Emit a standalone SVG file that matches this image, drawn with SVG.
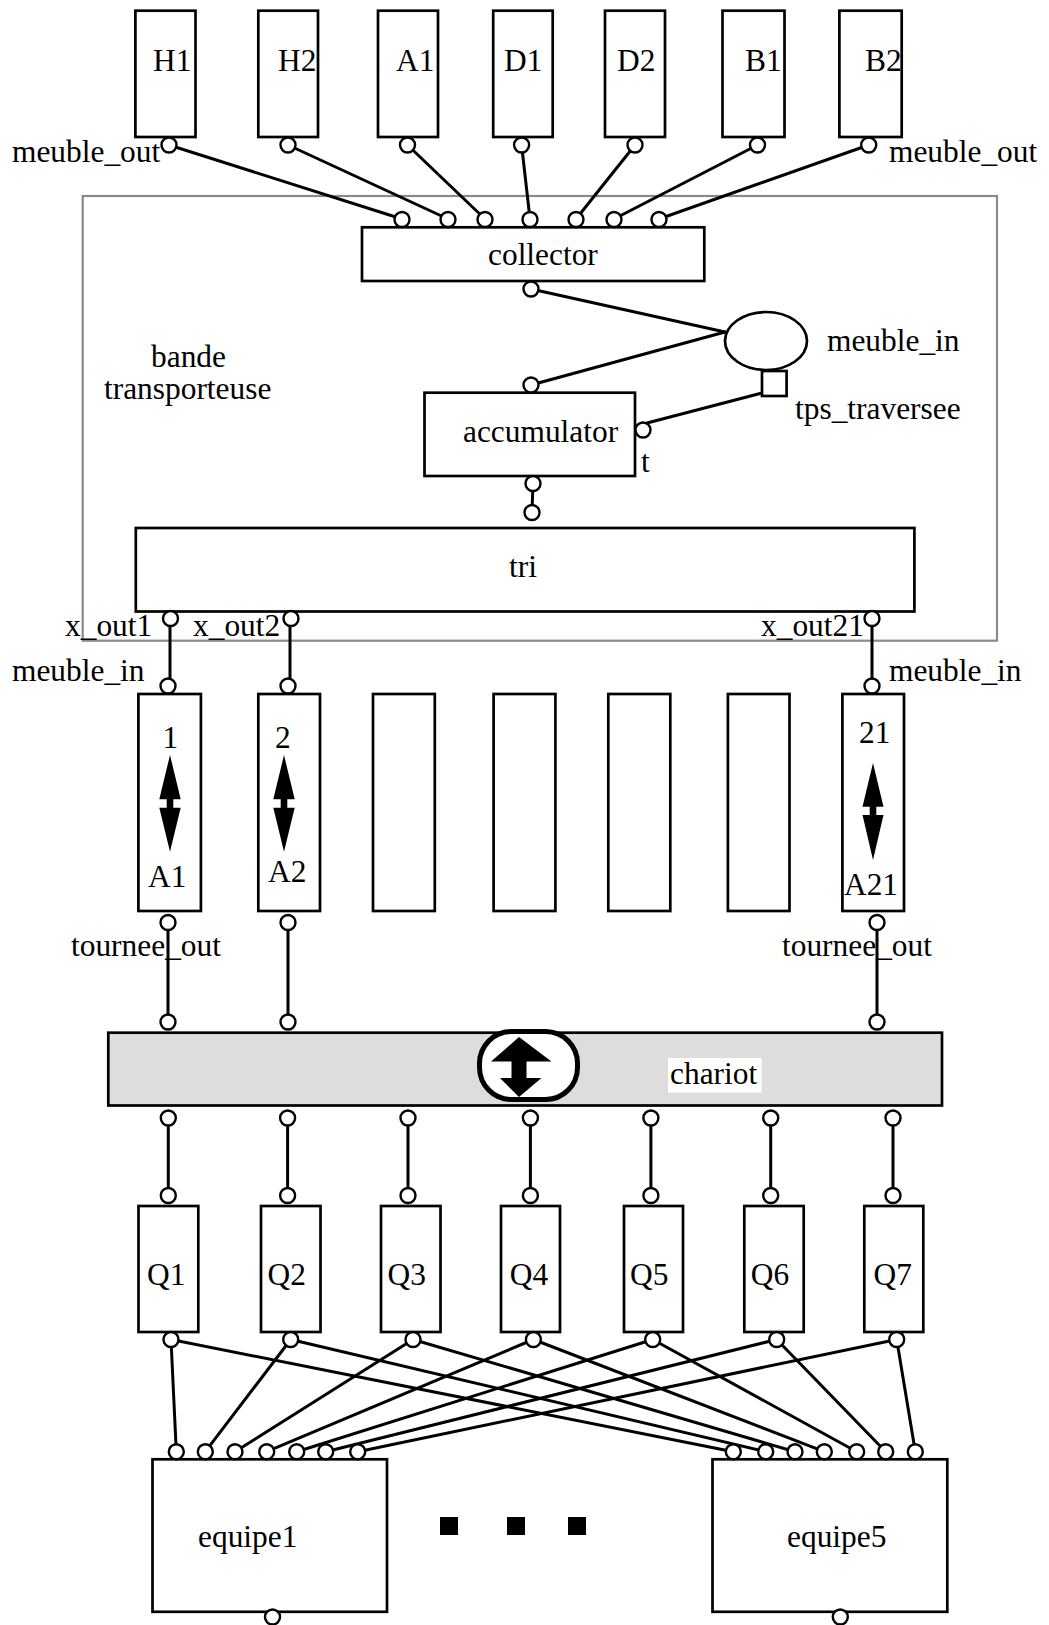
<svg xmlns="http://www.w3.org/2000/svg" width="1049" height="1625" viewBox="0 0 1049 1625">
<style>
  text { font-family: "Liberation Serif", "Times New Roman", serif; font-size: 31.4px; fill: #000; }
  .box { fill: #fff; stroke: #000; stroke-width: 2.7; }
  .port { fill: #fff; stroke: #000; stroke-width: 2.4; }
  .wire { stroke: #000; stroke-width: 3; fill: none; stroke-linecap: round; }
  .group { fill: none; stroke: #8a8a8a; stroke-width: 2.2; }
  .arrow { fill: #000; stroke: none; }
</style>
<rect width="1049" height="1625" fill="#fff"/>

<g id="bande_transporteuse">
  <rect class="group" x="82.7" y="196" width="914.3" height="444.7"/>
  <text x="151" y="367">bande</text>
  <text x="104" y="399">transporteuse</text>
</g>

<g id="connectors">
  <line class="wire" x1="169" y1="145" x2="402" y2="219"/>
  <line class="wire" x1="288" y1="145" x2="448" y2="219"/>
  <line class="wire" x1="407.5" y1="145" x2="485" y2="219"/>
  <line class="wire" x1="521.6" y1="145" x2="530" y2="219"/>
  <line class="wire" x1="635" y1="145" x2="576" y2="219"/>
  <line class="wire" x1="757.5" y1="145" x2="614" y2="219"/>
  <line class="wire" x1="868.7" y1="145" x2="659" y2="219"/>
  <line class="wire" x1="531" y1="289" x2="725" y2="332"/>
  <line class="wire" x1="725" y1="332" x2="531" y2="385"/>
  <line class="wire" x1="762" y1="393" x2="647" y2="423"/>
  <line class="wire" x1="533" y1="483.5" x2="532" y2="512.5"/>
  <line class="wire" x1="170" y1="618.5" x2="170" y2="686"/>
  <line class="wire" x1="290" y1="618.5" x2="290" y2="686"/>
  <line class="wire" x1="872" y1="618.5" x2="872" y2="686"/>
  <line class="wire" x1="168" y1="922.5" x2="168" y2="1022"/>
  <line class="wire" x1="288" y1="922.5" x2="288" y2="1022"/>
  <line class="wire" x1="877" y1="922.5" x2="877" y2="1022"/>
  <line class="wire" x1="168.3" y1="1118" x2="168.3" y2="1195.5"/>
  <line class="wire" x1="287.6" y1="1118" x2="287.6" y2="1195.5"/>
  <line class="wire" x1="408" y1="1118" x2="408" y2="1195.5"/>
  <line class="wire" x1="530.4" y1="1118" x2="530.4" y2="1195.5"/>
  <line class="wire" x1="650.9" y1="1118" x2="650.9" y2="1195.5"/>
  <line class="wire" x1="770.7" y1="1118" x2="770.7" y2="1195.5"/>
  <line class="wire" x1="893" y1="1118" x2="893" y2="1195.5"/>
  <line class="wire" x1="171" y1="1339.5" x2="176.3" y2="1451.7"/>
  <line class="wire" x1="171" y1="1339.5" x2="733.3" y2="1451.7"/>
  <line class="wire" x1="290.7" y1="1339.5" x2="205.3" y2="1451.7"/>
  <line class="wire" x1="290.7" y1="1339.5" x2="765.7" y2="1451.7"/>
  <line class="wire" x1="413" y1="1339.5" x2="235" y2="1451.7"/>
  <line class="wire" x1="413" y1="1339.5" x2="795" y2="1451.7"/>
  <line class="wire" x1="533.4" y1="1339.5" x2="266.7" y2="1451.7"/>
  <line class="wire" x1="533.4" y1="1339.5" x2="824.3" y2="1451.7"/>
  <line class="wire" x1="652.7" y1="1339.5" x2="296.7" y2="1451.7"/>
  <line class="wire" x1="652.7" y1="1339.5" x2="856.7" y2="1451.7"/>
  <line class="wire" x1="776.7" y1="1339.5" x2="325.7" y2="1451.7"/>
  <line class="wire" x1="776.7" y1="1339.5" x2="885.7" y2="1451.7"/>
  <line class="wire" x1="896.7" y1="1339.5" x2="357.7" y2="1451.7"/>
  <line class="wire" x1="896.7" y1="1339.5" x2="915.3" y2="1451.7"/>
</g>

<g id="H1">
  <rect class="box" x="135.4" y="10.7" width="60.1" height="126.3"/>
  <text x="153" y="71">H1</text>
  <circle class="port" cx="169" cy="145" r="7.5"/>
  <text x="12" y="162">meuble_out</text>
</g>
<g id="H2">
  <rect class="box" x="258.3" y="10.7" width="59.7" height="126.3"/>
  <text x="278" y="71">H2</text>
  <circle class="port" cx="288" cy="145" r="7.5"/>
</g>
<g id="A1">
  <rect class="box" x="378" y="10.7" width="60" height="126.3"/>
  <text x="396" y="71">A1</text>
  <circle class="port" cx="407.5" cy="145" r="7.5"/>
</g>
<g id="D1">
  <rect class="box" x="493.2" y="10.7" width="59.5" height="126.3"/>
  <text x="504" y="71">D1</text>
  <circle class="port" cx="521.6" cy="145" r="7.5"/>
</g>
<g id="D2">
  <rect class="box" x="605" y="10.7" width="60" height="126.3"/>
  <text x="617" y="71">D2</text>
  <circle class="port" cx="635" cy="145" r="7.5"/>
</g>
<g id="B1">
  <rect class="box" x="722.5" y="10.7" width="62" height="126.3"/>
  <text x="745" y="71">B1</text>
  <circle class="port" cx="757.5" cy="145" r="7.5"/>
</g>
<g id="B2">
  <rect class="box" x="839.4" y="10.7" width="62.3" height="126.3"/>
  <text x="865" y="71">B2</text>
  <circle class="port" cx="868.7" cy="145" r="7.5"/>
  <text x="889" y="162">meuble_out</text>
</g>

<g id="collector">
  <rect class="box" x="362" y="227.3" width="342.3" height="53.7"/>
  <text x="488" y="265">collector</text>
  <circle class="port" cx="402" cy="219.5" r="7.5"/>
  <circle class="port" cx="448" cy="219.5" r="7.5"/>
  <circle class="port" cx="485" cy="219.5" r="7.5"/>
  <circle class="port" cx="530" cy="219.5" r="7.5"/>
  <circle class="port" cx="576" cy="219.5" r="7.5"/>
  <circle class="port" cx="614" cy="219.5" r="7.5"/>
  <circle class="port" cx="659" cy="219.5" r="7.5"/>
  <circle class="port" cx="531" cy="289" r="7.5"/>
</g>

<g id="meuble_in">
  <ellipse class="box" cx="766" cy="341" rx="41" ry="29"/>
  <rect class="box" x="762" y="371" width="24.6" height="25"/>
  <text x="827" y="351">meuble_in</text>
  <text x="795" y="419">tps_traversee</text>
</g>

<g id="accumulator">
  <rect class="box" x="424.5" y="392.7" width="210.5" height="83.3"/>
  <text x="463" y="441.7">accumulator</text>
  <circle class="port" cx="531" cy="385" r="7.5"/>
  <circle class="port" cx="643" cy="430" r="7.5"/>
  <text x="641" y="471.7">t</text>
  <circle class="port" cx="533" cy="483.5" r="7.5"/>
</g>

<g id="tri">
  <rect class="box" x="135.8" y="528" width="778.6" height="83.5"/>
  <text x="509" y="576.7">tri</text>
  <circle class="port" cx="532" cy="512.5" r="7.5"/>
  <circle class="port" cx="170.5" cy="618.5" r="7.5"/>
  <circle class="port" cx="291" cy="618.5" r="7.5"/>
  <circle class="port" cx="872" cy="618.5" r="7.5"/>
  <text x="65" y="636">x_out1</text>
  <text x="193" y="636">x_out2</text>
  <text x="761" y="636">x_out21</text>
</g>

<g id="A1_lane">
  <rect class="box" x="138.4" y="694" width="62.5" height="217"/>
  <text x="162.6" y="748.3">1</text>
  <polygon class="arrow" points="170,755 180.7,799.3 173.3,799.3 173.3,807.7 180.7,807.7 170,851.7 159.3,807.7 166.7,807.7 166.7,799.3 159.3,799.3"/>
  <text x="148" y="887.3">A1</text>
  <circle class="port" cx="168" cy="686" r="7.5"/>
  <circle class="port" cx="168" cy="922.5" r="7.5"/>
  <text x="12" y="681">meuble_in</text>
  <text x="71" y="956">tournee_out</text>
</g>
<g id="A2_lane">
  <rect class="box" x="258.3" y="694" width="61.7" height="217"/>
  <text x="275" y="748.3">2</text>
  <polygon class="arrow" points="284,755 294.7,799.3 287.3,799.3 287.3,807.7 294.7,807.7 284,851.7 273.3,807.7 280.7,807.7 280.7,799.3 273.3,799.3"/>
  <text x="268" y="881.7">A2</text>
  <circle class="port" cx="288" cy="686" r="7.5"/>
  <circle class="port" cx="288" cy="922.5" r="7.5"/>
</g>
<g id="lane3"><rect class="box" x="373" y="694" width="61.8" height="217"/></g>
<g id="lane4"><rect class="box" x="493.6" y="694" width="61.8" height="217"/></g>
<g id="lane5"><rect class="box" x="608.3" y="694" width="62" height="217"/></g>
<g id="lane6"><rect class="box" x="727.9" y="694" width="61.6" height="217"/></g>
<g id="A21_lane">
  <rect class="box" x="842.4" y="694" width="61.6" height="217"/>
  <text x="859" y="743.3">21</text>
  <polygon class="arrow" points="873,763 883.5,806.7 876.3,806.7 876.3,815 883.5,815 873,860 862.5,815 869.7,815 869.7,806.7 862.5,806.7"/>
  <text x="844" y="895">A21</text>
  <circle class="port" cx="872" cy="686" r="7.5"/>
  <circle class="port" cx="877" cy="922.5" r="7.5"/>
  <text x="889" y="681">meuble_in</text>
  <text x="782" y="956">tournee_out</text>
</g>

<g id="chariot">
  <rect x="108.3" y="1032.7" width="833.7" height="72.8" fill="#dddddd" stroke="#000" stroke-width="2.7"/>
  <rect x="479.5" y="1031.5" width="98" height="68" rx="32" ry="32" fill="#fff" stroke="#000" stroke-width="5"/>
  <polygon class="arrow" points="519,1037 551.5,1061.5 526.5,1061.5 526.5,1078 541.5,1078 519,1097 500,1078 511.5,1078 511.5,1061.5 491,1061.5"/>
  <rect x="668" y="1058" width="93.6" height="34.7" fill="#fff"/>
  <text x="670" y="1084">chariot</text>
  <circle class="port" cx="168" cy="1022" r="7.5"/>
  <circle class="port" cx="288" cy="1022" r="7.5"/>
  <circle class="port" cx="877" cy="1022" r="7.5"/>
  <circle class="port" cx="168.3" cy="1118" r="7.5"/>
  <circle class="port" cx="287.6" cy="1118" r="7.5"/>
  <circle class="port" cx="408" cy="1118" r="7.5"/>
  <circle class="port" cx="530.4" cy="1118" r="7.5"/>
  <circle class="port" cx="650.9" cy="1118" r="7.5"/>
  <circle class="port" cx="770.7" cy="1118" r="7.5"/>
  <circle class="port" cx="893" cy="1118" r="7.5"/>
</g>

<g id="Q1">
  <rect class="box" x="138.5" y="1206" width="59.8" height="126"/>
  <text x="147" y="1285">Q1</text>
  <circle class="port" cx="168.3" cy="1195.5" r="7.5"/>
  <circle class="port" cx="171" cy="1339.5" r="7.5"/>
</g>
<g id="Q2">
  <rect class="box" x="261" y="1206" width="59.5" height="126"/>
  <text x="267.6" y="1285">Q2</text>
  <circle class="port" cx="287.6" cy="1195.5" r="7.5"/>
  <circle class="port" cx="290.7" cy="1339.5" r="7.5"/>
</g>
<g id="Q3">
  <rect class="box" x="381" y="1206" width="59.5" height="126"/>
  <text x="387.5" y="1285">Q3</text>
  <circle class="port" cx="408" cy="1195.5" r="7.5"/>
  <circle class="port" cx="413" cy="1339.5" r="7.5"/>
</g>
<g id="Q4">
  <rect class="box" x="501" y="1206" width="59" height="126"/>
  <text x="509.8" y="1285">Q4</text>
  <circle class="port" cx="530.4" cy="1195.5" r="7.5"/>
  <circle class="port" cx="533.4" cy="1339.5" r="7.5"/>
</g>
<g id="Q5">
  <rect class="box" x="624" y="1206" width="59" height="126"/>
  <text x="630" y="1285">Q5</text>
  <circle class="port" cx="650.9" cy="1195.5" r="7.5"/>
  <circle class="port" cx="652.7" cy="1339.5" r="7.5"/>
</g>
<g id="Q6">
  <rect class="box" x="744.3" y="1206" width="59.4" height="126"/>
  <text x="750.8" y="1285">Q6</text>
  <circle class="port" cx="770.7" cy="1195.5" r="7.5"/>
  <circle class="port" cx="776.7" cy="1339.5" r="7.5"/>
</g>
<g id="Q7">
  <rect class="box" x="864.3" y="1206" width="59" height="126"/>
  <text x="873.5" y="1285">Q7</text>
  <circle class="port" cx="893" cy="1195.5" r="7.5"/>
  <circle class="port" cx="896.7" cy="1339.5" r="7.5"/>
</g>

<g id="equipe1">
  <rect class="box" x="152.5" y="1459.3" width="234.5" height="152.5"/>
  <text x="198" y="1546.7">equipe1</text>
  <circle class="port" cx="176.3" cy="1451.7" r="7.5"/>
  <circle class="port" cx="205.3" cy="1451.7" r="7.5"/>
  <circle class="port" cx="235" cy="1451.7" r="7.5"/>
  <circle class="port" cx="266.7" cy="1451.7" r="7.5"/>
  <circle class="port" cx="296.7" cy="1451.7" r="7.5"/>
  <circle class="port" cx="325.7" cy="1451.7" r="7.5"/>
  <circle class="port" cx="357.7" cy="1451.7" r="7.5"/>
  <circle class="port" cx="272.5" cy="1617" r="7.5"/>
</g>

<g id="ellipsis">
  <rect x="440" y="1517" width="18" height="18" fill="#000"/>
  <rect x="507" y="1517" width="18" height="18" fill="#000"/>
  <rect x="568" y="1517" width="18" height="18" fill="#000"/>
</g>

<g id="equipe5">
  <rect class="box" x="712.5" y="1459.3" width="234.8" height="152.5"/>
  <text x="787" y="1546.7">equipe5</text>
  <circle class="port" cx="733.3" cy="1451.7" r="7.5"/>
  <circle class="port" cx="765.7" cy="1451.7" r="7.5"/>
  <circle class="port" cx="795" cy="1451.7" r="7.5"/>
  <circle class="port" cx="824.3" cy="1451.7" r="7.5"/>
  <circle class="port" cx="856.7" cy="1451.7" r="7.5"/>
  <circle class="port" cx="885.7" cy="1451.7" r="7.5"/>
  <circle class="port" cx="915.3" cy="1451.7" r="7.5"/>
  <circle class="port" cx="840.3" cy="1617" r="7.5"/>
</g>
</svg>
